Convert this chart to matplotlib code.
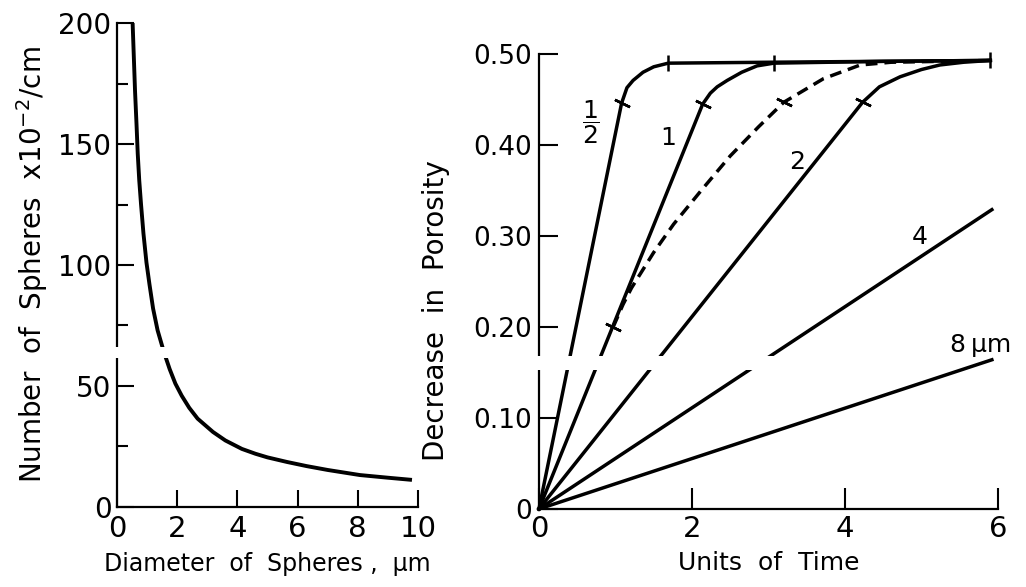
import matplotlib.pyplot as plt
from matplotlib.patches import Rectangle

plt.rcParams.update({
    "font.family": "DejaVu Sans",
    "mathtext.fontset": "dejavusans",
})

# ---- left panel: number of spheres vs diameter
diameter = [0.52, 0.56, 0.60, 0.65, 0.69, 0.74, 0.80, 0.88, 0.98, 1.08,
            1.20, 1.35, 1.56, 1.75, 1.94, 2.15, 2.40, 2.68, 3.19, 3.60,
            4.15, 4.60, 5.00, 5.65, 6.30, 7.00, 8.07, 9.00, 9.80]
n_spheres = [200, 186, 172, 158, 146, 135, 125, 113, 101, 92,
             82, 73, 64, 57, 51, 46, 41, 36.5, 31, 27.5,
             24, 22, 20.5, 18.6, 16.9, 15.3, 13.2, 12.1, 11.2]

# ---- right panel: decrease in porosity vs time, one curve per sphere size
half_t = [0, 1.08, 1.15, 1.23, 1.36, 1.50, 1.69, 3.0, 5.9]
half_y = [0, 0.446, 0.463, 0.471, 0.480, 0.486, 0.490, 0.491, 0.493]

one_t = [0, 2.14, 2.24, 2.33, 2.46, 2.65, 2.85, 3.07, 4.5, 5.9]
one_y = [0, 0.445, 0.457, 0.464, 0.471, 0.480, 0.487, 0.490, 0.492, 0.493]

two_t = [0, 4.23, 4.45, 4.72, 5.00, 5.24, 5.55, 5.9]
two_y = [0, 0.447, 0.464, 0.475, 0.483, 0.488, 0.491, 0.493]

four_t = [0, 5.92]
four_y = [0, 0.329]

eight_t = [0, 5.92]
eight_y = [0, 0.164]

dashed_t = [0.97, 1.10, 1.21, 1.50, 1.76, 2.12, 2.50, 2.87, 3.20, 3.72, 4.20, 4.60, 5.9]
dashed_y = [0.200, 0.225, 0.243, 0.282, 0.313, 0.350, 0.388, 0.420, 0.447, 0.473, 0.488, 0.491, 0.493]

# small cross strokes and end ticks on the curves
slash_t = [1.08, 2.14, 3.20, 4.23, 0.97]
slash_y = [0.446, 0.445, 0.447, 0.447, 0.200]
bar_t = [1.69, 3.07, 5.9]
bar_y = [0.490, 0.490, 0.493]

curve_labels = [r"$\dfrac{1}{2}$", "1", "2", "4", "8\u2009\u03bcm"]
curve_label_t = [0.68, 1.69, 3.37, 4.98, 5.77]
curve_label_y = [0.425, 0.408, 0.381, 0.299, 0.180]
curve_label_size = [18, 18, 18, 18, 18]

fig = plt.figure(figsize=(10.26, 5.87), dpi=100)
ax1 = fig.add_axes([0.114, 0.1363, 0.2934, 0.8245])
ax2 = fig.add_axes([0.5253, 0.1329, 0.4474, 0.775])

for ax in (ax1, ax2):
    ax.spines[["top", "right"]].set_visible(False)
    ax.spines[["left", "bottom"]].set_linewidth(1.6)

# left
ax1.plot(diameter, n_spheres, color="black", lw=2.8, clip_on=False,
         solid_capstyle="butt", solid_joinstyle="round")
ax1.set_xlim(0, 10)
ax1.set_ylim(0, 200)
ax1.set_xticks([0, 2, 4, 6, 8, 10])
ax1.set_yticks([0, 50, 100, 150, 200])
ax1.set_yticks([25, 75, 125, 175], minor=True)
ax1.tick_params(axis="x", direction="in", length=12, width=1.5, pad=6, labelsize=21)
ax1.tick_params(axis="y", which="major", direction="in", length=12, width=1.5, pad=4, labelsize=20)
ax1.tick_params(axis="y", which="minor", direction="in", length=8, width=1.5)
ax1.set_xlabel("Diameter  of  Spheres ,  \u03bcm", fontsize=17, labelpad=6)
ax1.set_ylabel("Number  of  Spheres  x10$^{-2}$/cm", fontsize=20, labelpad=6)

# right
lw = 2.5
for t, y in [(half_t, half_y), (one_t, one_y), (two_t, two_y),
             (four_t, four_y), (eight_t, eight_y)]:
    ax2.plot(t, y, color="black", lw=lw, clip_on=False, solid_joinstyle="round")
ax2.plot(dashed_t, dashed_y, color="black", lw=lw, linestyle=(0, (3.4, 2.0)),
         clip_on=False)
ax2.plot(slash_t, slash_y, linestyle="none", marker=(2, 2, 64), markersize=12,
         markeredgewidth=1.8, color="black", clip_on=False)
ax2.plot(bar_t, bar_y, linestyle="none", marker="|", markersize=12,
         markeredgewidth=1.8, color="black", clip_on=False)

for txt, t, y, fs in zip(curve_labels, curve_label_t, curve_label_y, curve_label_size):
    ax2.text(t, y, txt, fontsize=fs, ha="center", va="center")

ax2.set_xlim(0, 6)
ax2.set_ylim(0, 0.5)
ax2.set_xticks([0, 2, 4, 6])
ax2.set_yticks([0, 0.1, 0.2, 0.3, 0.4, 0.5])
ax2.set_yticklabels(["0", "0.10", "0.20", "0.30", "0.40", "0.50"])
ax2.tick_params(axis="x", direction="in", length=15, width=1.5, pad=4, labelsize=21)
ax2.tick_params(axis="y", direction="in", length=14, width=1.5, pad=5, labelsize=19)
ax2.set_xlabel("Units  of  Time", fontsize=18, labelpad=6)
ax2.set_ylabel("Decrease  in  Porosity", fontsize=20)
ax2.yaxis.set_label_coords(-0.194, 0.437)

# scan artefact: thin blank strip crossing both panels
for x0, y0, w, h in [(0.06, 0.390, 0.28, 0.019), (0.515, 0.370, 0.24, 0.024)]:
    fig.add_artist(Rectangle((x0, y0), w, h, transform=fig.transFigure,
                             facecolor="white", edgecolor="none", zorder=10))

fig.savefig("out.png", dpi=100)
